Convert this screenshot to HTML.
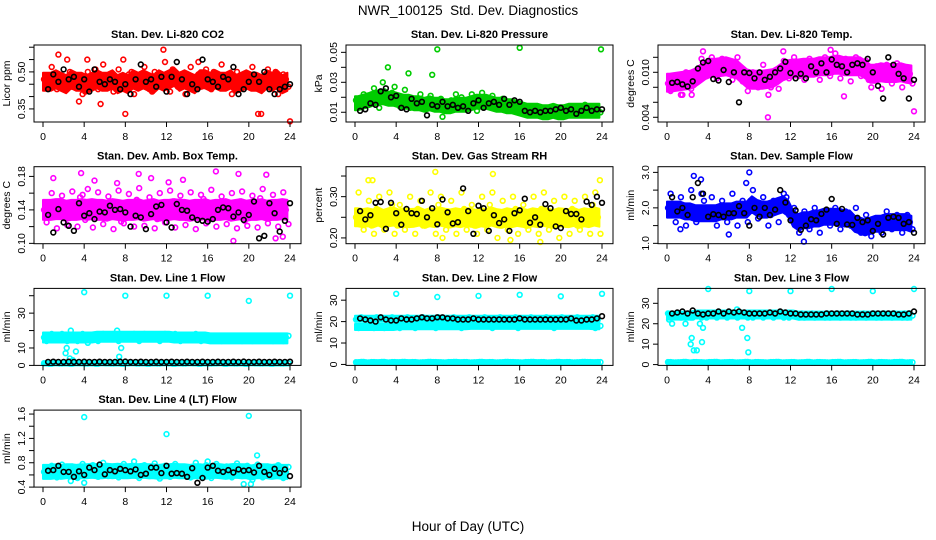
<!DOCTYPE html>
<html><head><meta charset="utf-8"><style>
html,body{margin:0;padding:0;background:#fff;}
svg{display:block;font-family:"Liberation Sans",Arial,sans-serif;}
</style></head><body>
<svg id="chart" width="936" height="540" viewBox="0 0 936 540">
<rect x="0" y="0" width="936" height="540" fill="#fff"/>
<text x="468" y="15" font-size="13.5" text-anchor="middle">NWR_100125&#160; Std. Dev. Diagnostics</text>
<text x="468" y="531" font-size="13.5" text-anchor="middle">Hour of Day (UTC)</text>
</svg>
<script>
var xTicks=[0,4,8,12,16,20,24];
// Panel 1 CO2
var co2A=[0.47,0.44,0.49,0.46,0.43,0.50,0.45,0.48,0.42,0.47,0.51,0.44,0.46,0.49,0.43,0.47,0.45,0.50,0.44,0.48,0.46,0.42,0.49,0.45,0.47,0.51,0.44,0.48,0.46,0.43,0.49,0.47,0.45,0.50,0.44,0.46,0.48,0.43,0.47,0.49,0.45,0.46,0.44,0.48,0.46,0.50,0.43,0.47];
var co2B=[0.45,0.52,0.43,0.48,0.55,0.44,0.47,0.41,0.50,0.45,0.43,0.53,0.48,0.42,0.51,0.44,0.49,0.41,0.47,0.52,0.43,0.50,0.46,0.54,0.42,0.47,0.49,0.41,0.52,0.48,0.44,0.51,0.43,0.47,0.53,0.45,0.41,0.50,0.46,0.44,0.52,0.48,0.43,0.51,0.45,0.41,0.49,0.44];
var co2C=[0.46,0.46,0.47,0.46,0.45,0.47,0.46,0.46,0.45,0.46,0.47,0.46,0.46,0.47,0.45,0.46,0.45,0.47,0.46,0.47,0.46,0.45,0.47,0.46,0.47,0.48,0.46,0.47,0.46,0.45,0.47,0.47,0.46,0.47,0.46,0.46,0.47,0.45,0.46,0.47,0.46,0.46,0.45,0.47,0.46,0.47,0.45,0.46];
var co2K=[0.43,0.49,0.46,0.51,0.47,0.48,0.44,0.47,0.42,0.51,0.46,0.45,0.47,0.46,0.43,0.45,0.41,0.47,0.53,0.46,0.47,0.44,0.48,0.42,0.48,0.54,0.47,0.41,0.45,0.43,0.55,0.47,0.46,0.44,0.48,0.47,0.52,0.41,0.43,0.46,0.49,0.46,0.50,0.43,0.41,0.43,0.44,0.45];
var co2OX=[1.5,4.3,7.8,8.0,11.7,12.3,15.1,20.9,21.2,24.0,5.6,3.5];
var co2OY=[0.57,0.55,0.55,0.33,0.59,0.49,0.54,0.33,0.33,0.30,0.37,0.38];
var co2Ticks=[0.35,0.40,0.45,0.50,0.55,0.60];
var co2Labels=["0.35","","","0.50","",""];
// Panel 2 Pressure
var prsA=[0.018,0.016,0.020,0.022,0.019,0.017,0.021,0.023,0.018,0.016,0.020,0.019,0.017,0.015,0.018,0.016,0.014,0.015,0.013,0.016,0.015,0.014,0.017,0.019,0.018,0.020,0.016,0.015,0.017,0.014,0.015,0.016,0.012,0.011,0.013,0.012,0.010,0.011,0.012,0.010,0.011,0.012,0.010,0.011,0.012,0.011,0.012,0.011];
var prsB=[0.014,0.022,0.015,0.026,0.013,0.024,0.016,0.027,0.014,0.025,0.013,0.017,0.022,0.012,0.021,0.013,0.019,0.011,0.018,0.012,0.020,0.013,0.022,0.011,0.023,0.015,0.021,0.012,0.019,0.013,0.017,0.011,0.014,0.009,0.014,0.008,0.013,0.009,0.014,0.008,0.013,0.009,0.014,0.008,0.015,0.009,0.013,0.010];
var prsC=[0.016,0.017,0.018,0.019,0.020,0.020,0.019,0.019,0.018,0.017,0.017,0.016,0.016,0.015,0.016,0.015,0.015,0.014,0.014,0.015,0.015,0.015,0.016,0.017,0.017,0.017,0.016,0.015,0.015,0.014,0.014,0.013,0.012,0.011,0.011,0.011,0.010,0.010,0.011,0.010,0.010,0.011,0.011,0.011,0.011,0.011,0.011,0.011];
var prsK=[0.011,0.012,0.016,0.015,0.024,0.026,0.020,0.021,0.013,0.012,0.019,0.016,0.017,0.008,0.015,0.014,0.017,0.014,0.015,0.013,0.014,0.011,0.016,0.018,0.013,0.016,0.017,0.015,0.019,0.015,0.018,0.017,0.011,0.010,0.011,0.010,0.011,0.011,0.012,0.013,0.011,0.012,0.009,0.011,0.013,0.011,0.012,0.012];
var prsOX=[3.2,5.2,7.5,8.0,16.0,23.9,2.7,9.8,8.5];
var prsOY=[0.040,0.036,0.035,0.052,0.053,0.052,0.030,0.022,0.007];
var prsTicks=[0.01,0.02,0.03,0.04,0.05];
var prsLabels=["0.01","","0.03","","0.05"];
// Panel 3 Temp
var tmpA=[0.0085,0.0090,0.0080,0.0095,0.0088,0.0083,0.0092,0.0105,0.0110,0.0100,0.0108,0.0115,0.0102,0.0110,0.0098,0.0090,0.0085,0.0095,0.0088,0.0092,0.0080,0.0095,0.0105,0.0100,0.0108,0.0102,0.0110,0.0105,0.0098,0.0112,0.0106,0.0100,0.0115,0.0108,0.0102,0.0110,0.0105,0.0112,0.0100,0.0090,0.0098,0.0105,0.0092,0.0100,0.0095,0.0102,0.0090,0.0098];
var tmpB=[0.0075,0.0095,0.0070,0.0100,0.0078,0.0098,0.0118,0.0095,0.0120,0.0092,0.0118,0.0105,0.0090,0.0120,0.0088,0.0075,0.0100,0.0080,0.0110,0.0070,0.0098,0.0078,0.0115,0.0092,0.0120,0.0095,0.0090,0.0118,0.0110,0.0090,0.0120,0.0095,0.0125,0.0092,0.0118,0.0088,0.0120,0.0095,0.0115,0.0080,0.0108,0.0078,0.0110,0.0085,0.0112,0.0080,0.0105,0.0085];
var tmpC=[0.0086,0.0087,0.0088,0.0089,0.0090,0.0093,0.0098,0.0103,0.0106,0.0106,0.0107,0.0108,0.0106,0.0104,0.0098,0.0092,0.0090,0.0090,0.0090,0.0091,0.0092,0.0096,0.0101,0.0104,0.0105,0.0105,0.0106,0.0106,0.0106,0.0108,0.0108,0.0108,0.0110,0.0110,0.0108,0.0108,0.0108,0.0108,0.0104,0.0098,0.0098,0.0100,0.0099,0.0099,0.0099,0.0100,0.0098,0.0097];
var tmpK=[0.0086,0.0087,0.0084,0.0081,0.0088,0.0105,0.0113,0.0115,0.0091,0.0089,0.0103,0.0087,0.0100,0.0060,0.0100,0.0099,0.0092,0.0100,0.0090,0.0094,0.0100,0.0105,0.0114,0.0099,0.0092,0.0098,0.0092,0.0108,0.0100,0.0112,0.0100,0.0117,0.0110,0.0108,0.0100,0.0110,0.0112,0.0110,0.0118,0.0100,0.0082,0.0065,0.0120,0.0110,0.0098,0.0092,0.0065,0.0090];
var tmpOX=[9.8,24.0,3.5,15.9,11.3,17.2,1.5,2.4];
var tmpOY=[0.0040,0.0048,0.0128,0.0130,0.0128,0.0068,0.0070,0.0070];
var tmpTicks=[0.004,0.006,0.008,0.010,0.012];
var tmpLabels=["0.004","","","0.010",""];
// Panel 4 Amb box
var ambA=[0.140,0.135,0.145,0.150,0.130,0.142,0.138,0.155,0.128,0.147,0.136,0.143,0.132,0.150,0.140,0.126,0.145,0.138,0.152,0.133,0.141,0.148,0.129,0.144,0.137,0.150,0.135,0.142,0.131,0.146,0.139,0.153,0.128,0.144,0.136,0.149,0.134,0.141,0.150,0.127,0.143,0.138,0.154,0.132,0.146,0.137,0.148,0.140];
var ambB=[0.125,0.160,0.118,0.157,0.122,0.162,0.120,0.158,0.165,0.119,0.161,0.123,0.156,0.117,0.163,0.124,0.159,0.120,0.166,0.121,0.155,0.118,0.160,0.125,0.163,0.119,0.157,0.122,0.161,0.117,0.158,0.124,0.164,0.120,0.156,0.123,0.160,0.118,0.162,0.121,0.157,0.119,0.165,0.124,0.158,0.120,0.161,0.123];
var ambC=[0.140,0.140,0.141,0.141,0.139,0.140,0.140,0.141,0.140,0.141,0.140,0.140,0.139,0.141,0.140,0.139,0.140,0.140,0.141,0.139,0.140,0.141,0.139,0.140,0.140,0.141,0.140,0.140,0.139,0.140,0.140,0.141,0.139,0.140,0.140,0.141,0.139,0.140,0.141,0.139,0.140,0.140,0.141,0.139,0.140,0.140,0.141,0.140];
var ambK=[0.134,0.113,0.141,0.125,0.121,0.115,0.148,0.133,0.136,0.129,0.138,0.137,0.145,0.140,0.141,0.137,0.120,0.133,0.131,0.117,0.135,0.144,0.146,0.125,0.119,0.147,0.140,0.139,0.131,0.128,0.127,0.126,0.129,0.140,0.143,0.142,0.132,0.137,0.128,0.134,0.150,0.106,0.109,0.148,0.136,0.114,0.127,0.148];
var ambOX=[1.0,3.7,5.0,9.3,10.5,13.6,16.8,18.5,19.0,21.7,22.6,23.3,12.2,7.2];
var ambOY=[0.178,0.184,0.175,0.183,0.178,0.176,0.186,0.103,0.183,0.182,0.106,0.108,0.173,0.172];
var ambTicks=[0.10,0.12,0.14,0.16,0.18];
var ambLabels=["0.10","","0.14","","0.18"];
// Panel 5 RH
var rhA=[0.25,0.24,0.26,0.23,0.27,0.24,0.25,0.28,0.23,0.26,0.24,0.25,0.27,0.23,0.26,0.24,0.28,0.25,0.23,0.26,0.24,0.27,0.25,0.23,0.26,0.24,0.28,0.25,0.23,0.26,0.24,0.27,0.25,0.23,0.26,0.24,0.27,0.25,0.23,0.26,0.25,0.24,0.27,0.23,0.26,0.24,0.28,0.25];
var rhB=[0.31,0.22,0.29,0.21,0.30,0.22,0.31,0.21,0.28,0.22,0.30,0.21,0.29,0.23,0.31,0.21,0.30,0.22,0.29,0.21,0.31,0.22,0.28,0.21,0.30,0.22,0.31,0.20,0.29,0.22,0.30,0.21,0.28,0.22,0.30,0.21,0.31,0.22,0.29,0.20,0.30,0.21,0.29,0.22,0.30,0.21,0.31,0.21];
var rhC=[0.250,0.248,0.250,0.247,0.252,0.246,0.250,0.252,0.247,0.250,0.248,0.249,0.252,0.246,0.250,0.248,0.252,0.249,0.247,0.250,0.248,0.251,0.249,0.246,0.250,0.248,0.252,0.248,0.246,0.250,0.248,0.251,0.249,0.246,0.250,0.248,0.251,0.249,0.246,0.250,0.249,0.248,0.251,0.246,0.250,0.248,0.252,0.249];
var rhK=[0.265,0.245,0.255,0.285,0.287,0.222,0.285,0.26,0.232,0.27,0.26,0.258,0.29,0.25,0.272,0.233,0.293,0.262,0.235,0.238,0.32,0.265,0.21,0.278,0.272,0.217,0.255,0.236,0.245,0.217,0.26,0.267,0.295,0.237,0.25,0.232,0.282,0.272,0.228,0.224,0.265,0.258,0.258,0.245,0.288,0.28,0.30,0.285];
var rhOX=[1.3,1.7,7.8,13.4,18.0,15.1,8.5,23.8];
var rhOY=[0.34,0.34,0.36,0.355,0.19,0.195,0.20,0.34];
var rhTicks=[0.20,0.25,0.30,0.35];
var rhLabels=["0.20","","0.30",""];
// Panel 6 Sample flow
var sfA=[2.0,1.9,2.1,1.8,2.0,1.9,1.7,2.2,1.9,1.8,2.0,1.9,1.8,2.0,1.9,2.1,2.2,2.0,1.9,2.0,1.8,2.1,2.2,2.3,1.7,1.6,1.7,1.5,1.6,1.7,1.6,1.8,1.7,1.9,1.8,1.7,1.6,1.5,1.4,1.5,1.6,1.5,1.7,1.6,1.5,1.7,1.6,1.6];
var sfB=[2.4,1.6,2.3,1.5,2.5,1.6,2.4,1.7,2.3,1.5,2.2,1.6,2.4,1.5,2.2,1.6,2.5,1.7,2.3,1.5,2.2,1.6,2.4,1.8,2.0,1.3,1.9,1.4,2.0,1.3,1.9,1.5,2.0,1.4,1.9,1.5,2.0,1.3,1.8,1.2,1.7,1.3,1.9,1.4,1.8,1.3,1.8,1.4];
var sfC=[1.95,1.95,1.95,1.9,1.9,1.85,1.85,1.85,1.85,1.85,1.9,1.9,1.9,1.95,1.95,1.95,2.1,2.0,1.95,1.95,2.0,2.05,2.1,2.0,1.7,1.6,1.65,1.65,1.7,1.7,1.75,1.75,1.75,1.75,1.7,1.7,1.55,1.5,1.45,1.5,1.55,1.55,1.6,1.6,1.6,1.6,1.6,1.55];
var sfK=[2.3,1.9,2.0,1.8,2.3,2.7,2.4,1.75,1.82,1.8,1.75,1.85,1.85,2.05,1.85,1.5,2.0,1.75,2.0,1.8,1.95,2.5,2.15,1.65,1.93,1.38,1.5,1.68,1.65,1.83,1.95,2.25,1.55,1.97,1.53,1.52,1.72,1.6,1.65,1.35,1.55,1.25,1.72,1.75,1.72,1.55,1.6,1.3];
var sfOX=[2.6,8.0,7.7,6.0,13.3,1.3,3.3];
var sfOY=[2.9,3.0,2.7,1.25,1.05,1.4,2.8];
var sfTicks=[1.0,1.5,2.0,2.5,3.0];
var sfLabels=["1.0","","2.0","","3.0"];
// Panel 7 Line 1
var l1A=[16,17,15,16,17,16,15,17,16,16,17,16,17,16,17,17,16,17,16,17,16,17,16,16,17,16,16,17,16,16,15,16,16,15,16,16,15,16,15,16,15,16,15,16,15,16,15,16];
var l1B=[14,18,15,18,14,17,14,18,13,17,14,18,15,18,14,17,15,18,14,18,15,17,14,18,15,18,14,17,15,18,14,17,15,17,14,16,15,17,14,17,14,16,15,17,14,16,14,17];
var l1C=[16,16,16,16,16,16,16,16,16,16,16.5,16.5,16.5,16.5,16.5,16.5,16.5,16.5,16.5,16.5,16.5,16.5,16.5,16.5,16.5,16,16,16,16,16,16,16,15.5,15.5,15.5,15.5,15.5,15.5,15.5,15.5,15.5,15.5,15.5,15.5,15.5,15.5,15.5,15.5];
var l1L=[1.2,1.0,1.3,1.1,1.2,1.0,1.3,1.2,1.1,1.2,1.0,1.3,1.2,1.1,1.2,1.0,1.2,1.3,1.1,1.2,1.0,1.2,1.1,1.3,1.2,1.0,1.2,1.1,1.3,1.2,1.0,1.2,1.1,1.2,1.3,1.0,1.2,1.1,1.2,1.0,1.3,1.2,1.1,1.2,1.0,1.2,1.1,1.2];
var l1K=[2.0,2.1,2.0,2.0,2.1,2.0,2.0,2.1,2.0,2.0,2.1,2.0,2.0,2.0,2.1,2.2,2.0,2.0,2.1,2.0,2.0,2.1,2.0,2.0,2.1,2.0,2.0,2.1,2.0,2.0,2.1,2.0,2.0,2.1,2.0,2.0,2.1,2.0,2.2,2.0,2.0,2.1,2.0,2.0,2.1,2.0,2.0,2.1];
var l1OX=[4.0,8.0,12.0,16.0,20.0,24.0,2.3,2.2,3.2,7.6,7.4,2.6,2.9,7.2,2.7];
var l1OY=[42,40,40,40,37,40,10,7,8,10,5,4,3,20,20];
var l1Ticks=[0,10,20,30,40];
var l1Labels=["0","10","","30",""];
// Panel 8 Line 2
var l2A=[21,22,21,21,22,21,21,22,21,21,22,21,21,22,21,21,22,21,21,22,21,21,22,21,21,22,21,21,22,21,21,22,21,21,22,21,21,22,21,21,22,21,21,22,21,21,22,21];
var l2B=[17,18,18,17,18,17,18,18,17,18,18,17,18,18,18,17,18,18,18,19,17,18,18,18,18,18,17,18,18,18,18,17,18,18,19,18,18,18,17,18,18,18,19,18,18,18,17,18];
var l2C=[21.3,21.3,21.3,21.3,21.3,21.3,21.3,21.3,21.3,21.3,21.3,21.3,21.3,21.3,21.3,21.3,21.3,21.3,21.3,21.3,21.3,21.3,21.3,21.3,21.3,21.3,21.3,21.3,21.3,21.3,21.3,21.3,21.3,21.3,21.3,21.3,21.3,21.3,21.3,21.3,21.3,21.3,21.3,21.3,21.3,21.3,21.3,21.3];
var l2D=[17.5,17.5,17.5,17.5,17.5,17.5,17.5,17.5,17.8,17.8,17.8,17.8,17.8,17.8,17.8,17.8,17.8,17.8,17.8,17.8,17.8,17.8,18,18,18,18,18,18,18,18,18,18,18,18,18,18,18,18,18,18,18,18,18,18,18,18,17.8,17.8];
var l2L=[1.0,1.2,0.9,1.1,1.0,1.2,0.9,1.1,1.0,1.2,1.0,1.1,0.9,1.0,1.2,1.1,1.0,0.9,1.1,1.2,1.0,1.1,0.9,1.0,1.2,1.0,1.1,0.9,1.0,1.2,1.1,1.0,0.9,1.1,1.2,1.0,1.1,0.9,1.0,1.2,1.0,1.1,0.9,1.0,1.2,1.1,1.0,1.1];
var l2K=[21.5,21,20.5,20,22,21,20.5,20.5,21.5,21,21,21.5,22,21.5,21.5,22,22,21.5,21.5,21,21,21,21.5,21,21,21,21,21,21,21,21,21.5,21,21,21,21,21,21,21,21,21,21.5,20.5,20.5,21,21,21.5,22.5];
var l2OX=[4,8,12,16,20,24];
var l2OY=[33,31.5,32,32.5,31.8,33];
var l2Ticks=[0,10,20,30];
var l2Labels=["0","10","20","30"];
// Panel 9 Line 3
var l3A=[25,24,25,24,25,25,24,25,24,25,24,25,25,24,25,24,25,25,24,25,24,25,24,25,25,24,25,24,25,24,24,25,24,25,24,25,24,24,25,24,25,24,25,24,25,24,25,25];
var l3B=[23,24,23,24,23,24,23,23,24,23,24,23,24,23,24,23,23,24,23,24,23,24,23,23,24,23,23,24,23,24,23,23,24,23,24,23,23,24,23,24,23,23,24,23,24,23,23,24];
var l3C=[24,24,24,24,24,24.5,24.5,24.5,24.5,24.5,24.5,24.5,24.5,24.5,24.5,24.5,24.5,24.5,24.5,24.5,24.5,24.5,24.5,24.5,24.5,24,24,24,24,24,24,24,24,24,24,24,24,24,24,24,24,24,24,24,24,24,24,24];
var l3L=[1.2,1.0,1.1,1.3,1.0,1.2,1.1,1.0,1.2,1.3,1.0,1.1,1.2,1.0,1.1,1.3,1.0,1.2,1.1,1.0,1.2,1.3,1.0,1.1,1.2,1.0,1.1,1.3,1.0,1.2,1.1,1.0,1.2,1.3,1.0,1.1,1.2,1.0,1.1,1.3,1.0,1.2,1.1,1.0,1.2,1.3,1.0,1.1];
var l3K=[25,25.5,26,25,26.5,25,24.5,25,25,26,25,26,25.5,26,25.5,25,25,25,25,25.5,25,26,25.5,25,25,24.5,24.5,24.5,24.5,24.5,25,25,25,25,25,25,24.5,24.5,24.5,25,25,25,25,25,24.5,24.5,25,26];
var l3OX=[0.2,0.5,1.8,2.3,2.4,2.6,2.9,3.4,3.5,3.2,7.3,7.9,7.8,4,8,12,16,20,24,2.5,6.8];
var l3OY=[22,20,20,10,13,7,7,11,18,20,18,6,13,37,36,36,37,36,37,23,27];
var l3Ticks=[0,10,20,30];
var l3Labels=["0","10","20","30"];
// Panel 10 Line 4
var l4A=[0.65,0.68,0.62,0.70,0.66,0.63,0.69,0.64,0.67,0.71,0.62,0.66,0.68,0.64,0.70,0.65,0.63,0.69,0.66,0.72,0.64,0.67,0.62,0.68,0.65,0.70,0.63,0.67,0.64,0.69,0.66,0.62,0.70,0.65,0.68,0.63,0.66,0.71,0.64,0.67,0.62,0.69,0.65,0.68,0.63,0.70,0.66,0.64];
var l4B=[0.58,0.75,0.56,0.77,0.60,0.74,0.55,0.78,0.59,0.76,0.57,0.80,0.58,0.74,0.56,0.78,0.60,0.82,0.55,0.76,0.58,0.79,0.54,0.75,0.57,0.78,0.59,0.73,0.56,0.80,0.58,0.76,0.55,0.78,0.60,0.74,0.56,0.79,0.58,0.75,0.52,0.77,0.56,0.74,0.58,0.76,0.55,0.73];
var l4C=[0.65,0.65,0.66,0.65,0.66,0.66,0.65,0.66,0.66,0.67,0.66,0.66,0.67,0.66,0.67,0.66,0.66,0.67,0.66,0.67,0.66,0.66,0.65,0.66,0.66,0.67,0.66,0.66,0.65,0.66,0.66,0.65,0.66,0.67,0.66,0.65,0.66,0.67,0.66,0.66,0.64,0.66,0.66,0.66,0.65,0.66,0.65,0.65];
var l4K=[0.67,0.68,0.75,0.65,0.65,0.57,0.66,0.60,0.72,0.68,0.77,0.61,0.68,0.66,0.70,0.68,0.66,0.69,0.60,0.62,0.72,0.72,0.63,0.75,0.62,0.63,0.62,0.57,0.71,0.47,0.55,0.72,0.75,0.67,0.65,0.68,0.64,0.69,0.67,0.68,0.64,0.75,0.65,0.60,0.70,0.63,0.69,0.58];
var l4OX=[4,12,20,4,20.8,19.5,20.2,2.7,16];
var l4OY=[1.55,1.27,1.57,0.47,0.92,0.45,0.45,0.50,0.82];
var l4Ticks=[0.4,0.6,0.8,1.0,1.2,1.4,1.6];
var l4Labels=["0.4","","0.8","","1.2","","1.6"];

var NS="http://www.w3.org/2000/svg";
var svg=document.getElementById('chart');
function mk(tag,attrs,parent){var e=document.createElementNS(NS,tag);for(var k in attrs)e.setAttribute(k,attrs[k]);(parent||svg).appendChild(e);return e;}

var panels=[
 {id:'co2',title:'Stan. Dev. Li-820 CO2',yt:'Licor ppm',col:0,row:0,ymin:0.297,ymax:0.609,color:'#ff0000',A:co2A,B:co2B,K:co2K,OX:co2OX,OY:co2OY,T:co2Ticks,TL:co2Labels,bands:[[co2C,9]]},
 {id:'pressure',title:'Stan. Dev. Li-820 Pressure',yt:'kPa',col:1,row:0,ymin:0.0035,ymax:0.0549,color:'#00cc00',A:prsA,B:prsB,K:prsK,OX:prsOX,OY:prsOY,T:prsTicks,TL:prsLabels,bands:[[prsC,7]]},
 {id:'temp',title:'Stan. Dev. Li-820 Temp.',yt:'degrees C',col:2,row:0,ymin:0.00337,ymax:0.01364,color:'#ff00ff',A:tmpA,B:tmpB,K:tmpK,OX:tmpOX,OY:tmpOY,T:tmpTicks,TL:tmpLabels,bands:[[tmpC,9]]},
 {id:'amb-box',title:'Stan. Dev. Amb. Box Temp.',yt:'degrees C',col:0,row:1,ymin:0.0996,ymax:0.1916,color:'#ff00ff',A:ambA,B:ambB,K:ambK,OX:ambOX,OY:ambOY,T:ambTicks,TL:ambLabels,bands:[[ambC,10]]},
 {id:'rh',title:'Stan. Dev. Gas Stream RH',yt:'percent',col:1,row:1,ymin:0.186,ymax:0.3726,color:'#ffff00',A:rhA,B:rhB,K:rhK,OX:rhOX,OY:rhOY,T:rhTicks,TL:rhLabels,bands:[[rhC,9]]},
 {id:'sample-flow',title:'Stan. Dev. Sample Flow',yt:'ml/min',col:2,row:1,ymin:0.99,ymax:3.16,color:'#0000ff',A:sfA,B:sfB,K:sfK,OX:sfOX,OY:sfOY,T:sfTicks,TL:sfLabels,bands:[[sfC,8]]},
 {id:'line1',title:'Stan. Dev. Line 1 Flow',yt:'ml/min',col:0,row:2,ymin:0,ymax:44.2,color:'#00ffff',A:l1A,B:l1B,L:l1L,K:l1K,OX:l1OX,OY:l1OY,T:l1Ticks,TL:l1Labels,bands:[[l1C,5],[l1L,2]]},
 {id:'line2',title:'Stan. Dev. Line 2 Flow',yt:'ml/min',col:1,row:2,ymin:-0.45,ymax:35.5,color:'#00ffff',A:l2A,B:l2B,L:l2L,K:l2K,OX:l2OX,OY:l2OY,T:l2Ticks,TL:l2Labels,bands:[[l2C,3],[l2D,3],[l2L,2]]},
 {id:'line3',title:'Stan. Dev. Line 3 Flow',yt:'ml/min',col:2,row:2,ymin:-0.4,ymax:37.3,color:'#00ffff',A:l3A,B:l3B,L:l3L,K:l3K,OX:l3OX,OY:l3OY,T:l3Ticks,TL:l3Labels,bands:[[l3C,4],[l3L,2]]},
 {id:'line4',title:'Stan. Dev. Line 4 (LT) Flow',yt:'ml/min',col:0,row:3,ymin:0.40,ymax:1.665,color:'#00ffff',A:l4A,B:l4B,K:l4K,OX:l4OX,OY:l4OY,T:l4Ticks,TL:l4Labels,bands:[[l4C,7]]}
];

panels.forEach(function(p){
  var off=312*p.col;
  var top=45+121.7*p.row, h=77, bot=top+h;
  var left=34+off, right=301+off;
  var x0=43+off, x1=290+off;
  function sx(v){return x0+(x1-x0)*v/24;}
  function sy(v){return bot-(v-p.ymin)/(p.ymax-p.ymin)*h;}
  var g=mk('g',{});
  
  
  var t=mk('text',{x:(left+right)/2,y:top-7,'font-size':'11','font-weight':'bold','text-anchor':'middle'},g);
  t.textContent=p.title;
  
  
  // dense cloud bands from core arrays
  p.bands.forEach(function(bd){
    var arr=bd[0], d=bd[1], up=[], dn=[];
    arr.forEach(function(v,i){var x=sx(Math.min(24,i*0.5+0.25)); var y=sy(v); up.push(x.toFixed(1)+','+(y-d).toFixed(1)); dn.unshift(x.toFixed(1)+','+(y+d).toFixed(1));});
    up.unshift(sx(0).toFixed(1)+','+(sy(arr[0])-d).toFixed(1));
    dn.push(sx(0).toFixed(1)+','+(sy(arr[0])+d).toFixed(1));
    var poly=mk('polygon',{points:up.concat(dn).join(' '),fill:p.color,stroke:p.color,'stroke-width':'2','stroke-linejoin':'round'},g);
    
    
  });
  // points
  var pts=mk('g',{fill:'none','stroke-width':'1.6'},g);
  
  
  function dot(hx,v,c,nm){
    var cy=sy(v); if(cy<top-2||cy>bot+2) return;
    var c1=mk('circle',{cx:sx(hx).toFixed(1),cy:cy.toFixed(1),r:'2.4',stroke:c},pts);
    
    
  }
  p.A.forEach(function(v,i){dot(i*0.5+0.1,v,p.color,p.id+'-point');});
  p.B.forEach(function(v,i){dot(i*0.5+0.35,v,p.color,p.id+'-point');});
  if(p.L){p.L.forEach(function(v,i){dot(i*0.5+0.1,v,p.color,p.id+'-low-point');dot(i*0.5+0.35,v,p.color,p.id+'-low-point');});}
  p.OX.forEach(function(hx,i){dot(hx,p.OY[i],p.color,p.id+'-outlier');});
  p.K.forEach(function(v,i){dot(i*0.5+0.5,v,'#000',p.id+'-black-point');});
  // box
  var b=mk('rect',{x:left,y:top,width:right-left,height:h,fill:'none',stroke:'#000','stroke-width':'1'},g);
  
  
  xTicks.forEach(function(v){
    var x=sx(v);
    mk('line',{x1:x,y1:bot,x2:x,y2:bot+5,stroke:'#000'},g);
    var tl=mk('text',{x:x,y:bot+18,'font-size':'10.5','text-anchor':'middle'},g);
    tl.textContent=v;
    
    
  });
  p.T.forEach(function(v,i){
    var y=sy(v);
    mk('line',{x1:left,y1:y,x2:left-5,y2:y,stroke:'#000'},g);
    if(p.TL[i]){
      var tl=mk('text',{x:0,y:0,'font-size':'10.5','text-anchor':'middle',transform:'translate('+(left-9)+','+y.toFixed(1)+') rotate(-90)'},g);
      tl.textContent=p.TL[i];
      
      
    }
  });
  var yt=mk('text',{x:0,y:0,'font-size':'10.5','text-anchor':'middle',transform:'translate('+(left-24)+','+(top+h/2)+') rotate(-90)'},g);
  yt.textContent=p.yt;
  
  
});
</script>
</body></html>
